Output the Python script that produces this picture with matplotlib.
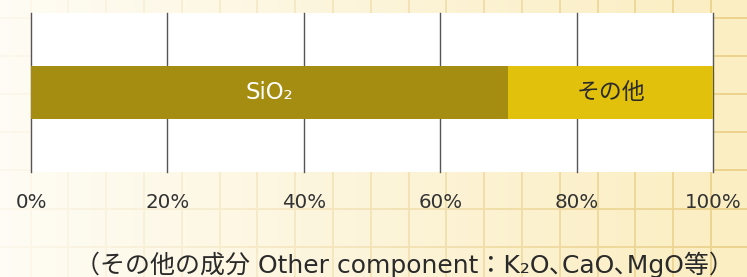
import numpy as np
import matplotlib
matplotlib.use('Agg')
import matplotlib.pyplot as plt

plt.rcParams['font.family'] = ['DejaVu Sans', 'Noto Sans CJK JP']

# data
labels = ['SiO₂', 'その他']
values = [70, 30]
colors = ['#a58d12', '#e2c10d']
text_colors = ['white', '#2a2a2a']
ticks = [0, 20, 40, 60, 80, 100]
tick_labels = ['0%', '20%', '40%', '60%', '80%', '100%']
caption = '（その他の成分 Other component：K₂O､CaO､MgO等）'

W, H = 747, 277
fig = plt.figure(figsize=(W / 100, H / 100), dpi=100)
fig.patch.set_facecolor('#fbeec2')

# grid paper behind everything, fading to near white on the left
bg = fig.add_axes([0, 0, 1, 1], zorder=0)
bg.set_xlim(0, W)
bg.set_ylim(H, 0)
bg.set_facecolor('#fbeec2')
bg.set_xticks(np.arange(30.5, W, 37.8))
bg.set_yticks(np.arange(18, H, 38.1))
bg.grid(True, color='#ebd28a', lw=1.3)
bg.tick_params(length=0, labelbottom=False, labelleft=False)
for s in bg.spines.values():
    s.set_visible(False)
fade = np.ones((2, 256, 4))
fade[..., 3] = np.linspace(0.85, 0.0, 256) ** 1.1
bg.imshow(fade, extent=[0, W, H, 0], aspect='auto', zorder=3)

# plot area
ax = fig.add_axes([31 / W, (H - 172) / H, 682 / W, 159 / H], zorder=1)
ax.set_facecolor('white')
ax.set_xlim(0, 100)
ax.set_ylim(-1.5, 1.5)
for s in ax.spines.values():
    s.set_visible(False)

left = 0
for lab, v, c, tc in zip(labels, values, colors, text_colors):
    ax.barh(0, v, left=left, height=1, color=c, zorder=2)
    ax.text(left + v / 2, 0, lab, ha='center', va='center', color=tc,
            fontsize=16.5, zorder=3)
    left += v

ax.set_xticks(ticks)
ax.set_xticklabels(tick_labels, fontsize=14.3, color='#333333')
ax.tick_params(axis='x', length=0, pad=15)
ax.set_yticks([])
ax.grid(True, axis='x', color='#555555', lw=1, zorder=1)
for gl in ax.get_xgridlines():
    gl.set_clip_on(False)
ax.set_axisbelow(True)

fig.text(404 / W, 1 - 265 / H, caption, ha='center', va='center',
         fontsize=18, color='#2a2a2a')

fig.savefig('out.png', dpi=100, facecolor=fig.get_facecolor())
